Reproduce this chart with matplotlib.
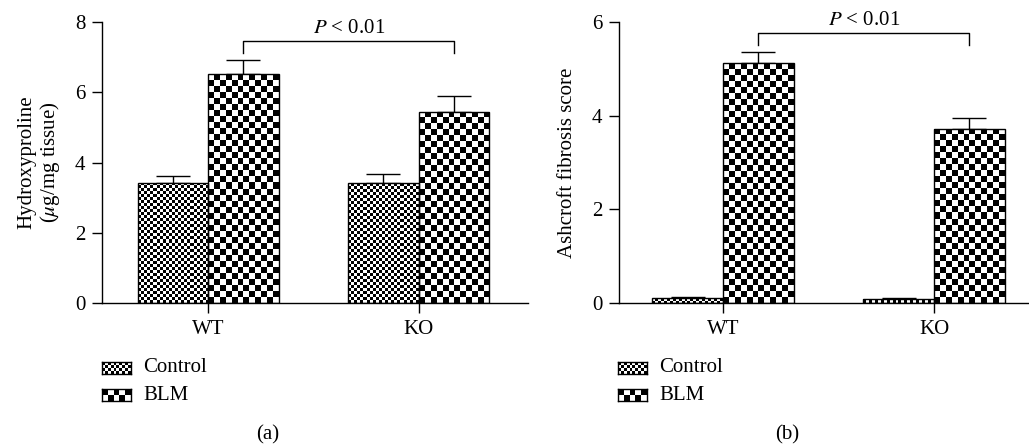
import numpy as np
import matplotlib.pyplot as plt

plt.rcParams['font.family'] = ['Liberation Serif', 'DejaVu Serif']
plt.rcParams['mathtext.fontset'] = 'stix'
plt.rcParams['font.size'] = 15

# Data
groups = ['WT', 'KO']
hyp_control = [3.42, 3.41]
hyp_control_err = [0.20, 0.27]
hyp_blm = [6.51, 5.44]
hyp_blm_err = [0.41, 0.46]
ash_control = [0.10, 0.09]
ash_control_err = [0.02, 0.02]
ash_blm = [5.12, 3.72]
ash_blm_err = [0.25, 0.23]
series_names = ['Control', 'BLM']

W, H = 1029, 445
fig = plt.figure(figsize=(W / 100, H / 100), dpi=100)

def px_axes(left, top, right, bottom):
    return fig.add_axes([left / W, 1 - bottom / H, (right - left) / W, (bottom - top) / H])

def board(nrow, ncol):
    return np.indices((nrow, ncol)).sum(axis=0) % 2

#Fill a bar with a checkerboard of given cell size (pixels)
def checker_fill(ax, bar, cell):
    x0, y0 = bar.get_x(), bar.get_y()
    w, h = bar.get_width(), bar.get_height()
    (px0, py0), (px1, py1) = ax.transData.transform([(x0, y0), (x0 + w, y0 + h)])
    ncol = max(1, int(round(abs(px1 - px0) / cell)))
    nrow = max(1, int(round(abs(py1 - py0) / cell)))
    im = ax.imshow(board(nrow, ncol), cmap='gray', extent=(x0, x0 + w, y0, y0 + h),
                   origin='lower', interpolation='nearest', aspect='auto', zorder=2)
    im.set_clip_path(bar)

def panel(ax, ctrl, ctrl_err, blm, blm_err, ymax, yticks, xlim, bracket, ptext_y, ylabel):
    x = np.arange(len(groups))
    bw = 0.335
    ax.set_xlim(*xlim)
    ax.set_ylim(0, ymax)
    for vals, errs, off, cell in [(ctrl, ctrl_err, -bw / 2, 3.0), (blm, blm_err, bw / 2, 6.0)]:
        bars = ax.bar(x + off, vals, bw, facecolor='none', edgecolor='black', linewidth=1.0, zorder=3)
        for b in bars:
            checker_fill(ax, b, cell)
        ax.errorbar(x + off, vals, yerr=[np.zeros(len(errs)), errs], fmt='none', ecolor='black',
                    elinewidth=1.0, capsize=12.5, capthick=1.0, zorder=1)
    # significance bracket between BLM bars
    bx = x + bw / 2
    ytop, ylow = bracket
    ax.plot([bx[0], bx[0], bx[1], bx[1]], [ylow, ytop, ytop, ylow], color='black', lw=1.0, clip_on=False)
    ax.text(bx.mean(), ptext_y, '$P$ < 0.01', ha='center', va='baseline')
    ax.set_xticks(x)
    ax.set_xticklabels(groups)
    ax.set_yticks(yticks)
    for s in ['top', 'right']:
        ax.spines[s].set_visible(False)
    for s in ['left', 'bottom']:
        ax.spines[s].set_linewidth(1.0)
    ax.tick_params(direction='out', length=7, width=1.0, pad=5)
    ax.set_ylabel(ylabel, linespacing=1.1)

ax1 = px_axes(102, 22, 528, 303)
panel(ax1, hyp_control, hyp_control_err, hyp_blm, hyp_blm_err, 8, [0, 2, 4, 6, 8],
      (-0.505, 1.52), (7.45, 7.13), 7.68, 'Hydroxyproline\n($\\mu$g/mg tissue)')
ax1.yaxis.set_label_coords(-0.093, 0.5)

ax2 = px_axes(619, 22, 1028, 303)
panel(ax2, ash_control, ash_control_err, ash_blm, ash_blm_err, 6, [0, 2, 4, 6],
      (-0.493, 1.445), (5.77, 5.51), 5.94, 'Ashcroft fibrosis score')
ax2.yaxis.set_label_coords(-0.103, 0.5)

#Legends
for sx, tx in [(102, 143), (618, 659)]:
    for name, cell, top in zip(series_names, [3.0, 6.0], [362, 389]):
        la = px_axes(sx, top, sx + 29, top + 12)
        ncol = int(round(29 / cell))
        nrow = int(round(12 / cell))
        la.imshow(board(nrow, ncol), cmap='gray', interpolation='nearest', aspect='auto')
        la.set_xticks([])
        la.set_yticks([])
        for s in la.spines.values():
            s.set_linewidth(1.0)
        fig.text(tx / W, 1 - (top + 6) / H, name, ha='left', va='center')

fig.text(268 / W, 1 - 435 / H, '(a)', ha='center', va='center')
fig.text(787 / W, 1 - 435 / H, '(b)', ha='center', va='center')

plt.savefig('out.png', dpi=100)
